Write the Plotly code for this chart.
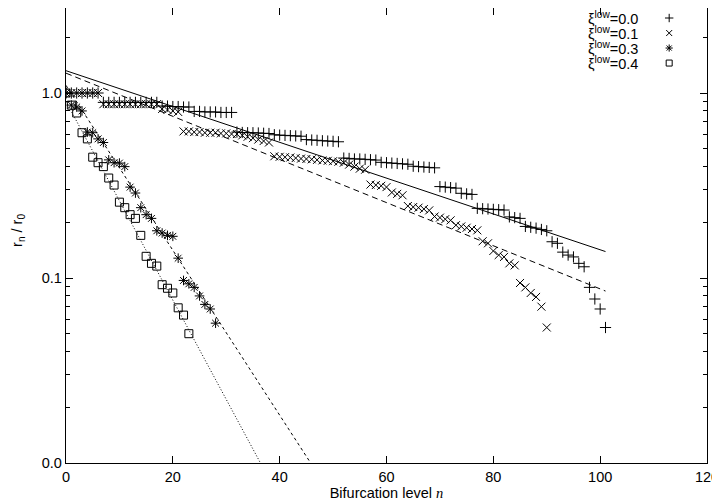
import math
import plotly.graph_objects as go

# r_n / r_0 against bifurcation level n, four values of xi_low
n_xi00 = list(range(0, 102))
r_xi00 = [1.0, 1.0, 1.0, 1.0, 1.0, 1.0, 1.0,
          0.89, 0.89, 0.89, 0.89, 0.89, 0.89, 0.89, 0.89, 0.89, 0.89, 0.89,
          0.85, 0.85, 0.845, 0.845, 0.84, 0.84,
          0.795, 0.795, 0.79, 0.79, 0.79, 0.785, 0.785, 0.785,
          0.615, 0.612, 0.61, 0.61, 0.608, 0.606, 0.604,
          0.595, 0.592, 0.59, 0.588, 0.586, 0.584,
          0.56, 0.557, 0.555, 0.552, 0.55, 0.548, 0.545,
          0.445, 0.443, 0.44, 0.44, 0.438, 0.436, 0.434,
          0.422, 0.42, 0.418, 0.416, 0.414, 0.412,
          0.402, 0.40, 0.398, 0.396, 0.394,
          0.312, 0.31, 0.308, 0.306,
          0.287, 0.285, 0.283,
          0.238, 0.237, 0.236, 0.235, 0.234, 0.233,
          0.214, 0.212, 0.21,
          0.19, 0.188, 0.186, 0.183, 0.18,
          0.157, 0.154,
          0.138, 0.133, 0.13,
          0.12, 0.115,
          0.089, 0.077, 0.068, 0.054]

n_xi01 = list(range(0, 91))
r_xi01 = [1.0, 1.0, 1.0, 1.0, 1.0, 1.0, 1.0,
          0.87, 0.87, 0.87, 0.87, 0.87, 0.87, 0.87, 0.87, 0.87, 0.87, 0.87,
          0.82, 0.81, 0.80, 0.79,
          0.62, 0.62, 0.615, 0.615, 0.61, 0.61, 0.61, 0.605, 0.605, 0.60,
          0.60, 0.59, 0.58, 0.57, 0.56, 0.55, 0.54,
          0.455, 0.452, 0.45, 0.448, 0.445, 0.442, 0.44,
          0.438, 0.435, 0.432, 0.43, 0.428, 0.425, 0.42,
          0.41, 0.40, 0.39, 0.385,
          0.32, 0.318, 0.315, 0.31,
          0.29, 0.285, 0.28,
          0.245, 0.242, 0.24, 0.236, 0.232,
          0.215, 0.212, 0.208, 0.205,
          0.193, 0.19, 0.187, 0.184, 0.181,
          0.158, 0.154,
          0.14, 0.133, 0.13, 0.12, 0.117,
          0.094, 0.089, 0.083, 0.079, 0.07,
          0.054]

n_xi03 = list(range(0, 29))
r_xi03 = [1.0, 0.86, 0.84, 0.80, 0.615, 0.61, 0.565, 0.54, 0.435, 0.42,
          0.418, 0.40, 0.31, 0.288, 0.24, 0.22, 0.21, 0.18, 0.175, 0.17,
          0.168, 0.128, 0.097, 0.093, 0.089, 0.08, 0.072, 0.068, 0.057]

n_xi04 = list(range(0, 24))
r_xi04 = [1.0, 0.86, 0.78, 0.61, 0.565, 0.45, 0.42, 0.40, 0.347, 0.318,
          0.257, 0.24, 0.22, 0.21, 0.17, 0.131, 0.12, 0.116, 0.092, 0.088,
          0.083, 0.069, 0.063, 0.05]

# exponential fits: (n_start, r_start, n_end, r_end)
fit_xi00 = (0, 1.32, 101, 0.139)
fit_xi01 = (0, 1.28, 101, 0.085)
fit_xi03 = (0, 1.10, 45.8, 0.01)
fit_xi04 = (0, 0.90, 36.4, 0.01)

labels = ["0.0", "0.1", "0.3", "0.4"]
symbols = ["cross-thin-open", "x-thin-open", "asterisk-open", "square-open"]
dashes = ["solid", "6px,4px", "3px,3px", "1px,2px"]

series = [(n_xi00, r_xi00, fit_xi00), (n_xi01, r_xi01, fit_xi01),
          (n_xi03, r_xi03, fit_xi03), (n_xi04, r_xi04, fit_xi04)]

fig = go.Figure()

for (n, r, fit), sym, dash in zip(series, symbols, dashes):
    fig.add_trace(go.Scatter(
        x=[fit[0], fit[2]], y=[fit[1], fit[3]], mode='lines',
        line=dict(color='black', width=1, dash=dash),
        showlegend=False, hoverinfo='skip'))
    fig.add_trace(go.Scatter(
        x=n, y=r, mode='markers',
        marker=dict(symbol=sym, size=8, color='black',
                    line=dict(color='black', width=1)),
        showlegend=False))

# key in the upper right corner: text on the left, symbol on the right
key_rows = [0.978, 0.945, 0.912, 0.879]
fig.add_trace(go.Scatter(
    x=[0.941] * 4, y=key_rows, xaxis='x2', yaxis='y2', mode='markers',
    marker=dict(symbol=symbols, size=6, color='black',
                line=dict(color='black', width=1)),
    showlegend=False, hoverinfo='skip'))
for lab, yy in zip(labels, key_rows):
    fig.add_annotation(
        xref='paper', yref='paper', x=0.896, y=yy, xanchor='right', yanchor='middle',
        text='ξ<sup>low</sup>=' + lab, showarrow=False,
        font=dict(family='Liberation Sans', size=14.5, color='black'))

# y axis title, placed by hand so it sits close to the page edge
fig.add_annotation(
    xref='paper', yref='paper', x=-0.075, y=0.512, textangle=-90,
    xanchor='center', yanchor='middle', showarrow=False,
    text='r<sub>n</sub> / r<sub>0</sub>',
    font=dict(family='Liberation Sans', size=14.5, color='black'))

axis_font = dict(family='Liberation Sans', size=14.5, color='black')

minor_vals = ([k * 0.01 for k in range(2, 10)] + [k * 0.1 for k in range(2, 10)]
              + [2.0])

# the page adds an 8px body margin, so the figure is sized and placed for that
fig.update_layout(
    width=712, height=493,
    margin=dict(l=58, r=13, t=0, b=38),
    paper_bgcolor='white', plot_bgcolor='white',
    font=axis_font,
    xaxis=dict(
        range=[0, 120], tickvals=[0, 20, 40, 60, 80, 100, 120],
        ticks='inside', ticklen=7, tickcolor='black', tickwidth=1,
        showline=True, linecolor='black', linewidth=1.3, mirror='ticks',
        showgrid=False, zeroline=False, tickfont=axis_font,
        title=dict(text='Bifurcation level <span style="font-family:Liberation Serif"><i>n</i></span>',
                   font=axis_font, standoff=1)),
    yaxis=dict(
        type='log', range=[-2, 0.4595],
        tickvals=[0.01, 0.1, 1.0], ticktext=['0.0', '0.1', '1.0'],
        ticks='inside', ticklen=7, tickcolor='black', tickwidth=1,
        minor=dict(tickvals=minor_vals, ticks='inside', ticklen=4,
                   tickcolor='black', tickwidth=1, showgrid=False),
        showline=True, linecolor='black', linewidth=1.3, mirror='ticks',
        showgrid=False, zeroline=False, tickfont=axis_font),
    xaxis2=dict(overlaying='x', range=[0, 1], visible=False),
    yaxis2=dict(overlaying='y', range=[0, 1], visible=False),
)

fig.write_html("out.html")
